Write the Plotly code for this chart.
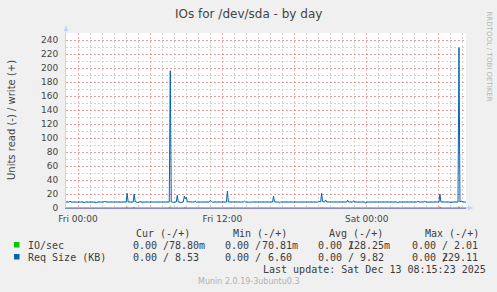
import plotly.graph_objects as go

# ---------------- data ----------------
req_times = [
    "2025-12-11 23:00", "2025-12-11 23:15", "2025-12-11 23:20", "2025-12-11 23:25",
    "2025-12-11 23:55", "2025-12-12 00:25", "2025-12-12 00:30", "2025-12-12 00:35",
    "2025-12-12 01:25", "2025-12-12 01:30", "2025-12-12 01:35", "2025-12-12 02:10",
    "2025-12-12 02:15", "2025-12-12 02:20", "2025-12-12 04:00", "2025-12-12 04:05",
    "2025-12-12 04:10", "2025-12-12 04:35", "2025-12-12 04:40", "2025-12-12 04:45",
    "2025-12-12 04:55", "2025-12-12 05:00", "2025-12-12 05:05", "2025-12-12 05:15",
    "2025-12-12 05:20", "2025-12-12 05:25", "2025-12-12 07:35", "2025-12-12 07:40",
    "2025-12-12 07:45", "2025-12-12 07:55", "2025-12-12 08:10", "2025-12-12 08:15",
    "2025-12-12 08:20", "2025-12-12 08:30", "2025-12-12 08:45", "2025-12-12 08:50",
    "2025-12-12 08:55", "2025-12-12 09:00", "2025-12-12 09:05", "2025-12-12 09:40",
    "2025-12-12 09:45", "2025-12-12 09:50", "2025-12-12 10:55", "2025-12-12 11:00",
    "2025-12-12 11:05", "2025-12-12 11:10", "2025-12-12 12:20", "2025-12-12 12:25",
    "2025-12-12 12:30", "2025-12-12 13:45", "2025-12-12 13:50", "2025-12-12 13:55",
    "2025-12-12 14:15", "2025-12-12 14:20", "2025-12-12 14:25", "2025-12-12 16:10",
    "2025-12-12 16:15", "2025-12-12 16:20", "2025-12-12 16:40", "2025-12-12 16:45",
    "2025-12-12 16:50", "2025-12-12 17:25", "2025-12-12 17:30", "2025-12-12 17:35",
    "2025-12-12 19:55", "2025-12-12 20:00", "2025-12-12 20:05", "2025-12-12 20:10",
    "2025-12-12 20:15", "2025-12-12 20:20", "2025-12-12 20:30", "2025-12-12 20:35",
    "2025-12-12 20:40", "2025-12-12 22:20", "2025-12-12 22:25", "2025-12-12 22:30",
    "2025-12-12 22:50", "2025-12-12 22:55", "2025-12-12 23:00", "2025-12-12 23:50",
    "2025-12-12 23:55", "2025-12-13 00:00", "2025-12-13 02:30", "2025-12-13 02:35",
    "2025-12-13 02:40", "2025-12-13 04:10", "2025-12-13 04:15", "2025-12-13 04:20",
    "2025-12-13 04:45", "2025-12-13 04:50", "2025-12-13 04:55", "2025-12-13 06:00",
    "2025-12-13 06:05", "2025-12-13 06:10", "2025-12-13 06:55", "2025-12-13 07:00",
    "2025-12-13 07:05", "2025-12-13 07:35", "2025-12-13 07:40", "2025-12-13 07:45",
    "2025-12-13 07:55", "2025-12-13 08:00", "2025-12-13 08:15",
]
req_values = [
    8.6, 8.4, 9.6, 8.5,
    8.4, 8.6, 7.2, 8.5,
    8.4, 7.0, 8.5, 8.5,
    9.8, 8.5, 8.5, 21.0,
    8.6, 8.4, 20.0, 9.2,
    8.0, 7.4, 8.5, 9.4,
    7.0, 8.5, 8.5, 196.0,
    9.0, 8.0, 8.6, 18.0,
    8.8, 7.8, 8.6, 17.0,
    13.0, 15.5, 8.8, 8.5,
    9.6, 8.5, 8.5, 11.0,
    9.6, 8.5, 8.5, 24.0,
    8.6, 8.5, 9.7, 8.5,
    8.3, 7.6, 8.5, 8.5,
    17.0, 8.6, 8.4, 7.4,
    8.5, 8.5, 7.6, 8.5,
    8.5, 9.5, 8.6, 8.6,
    21.0, 9.0, 8.6, 11.5,
    8.6, 8.5, 11.0, 8.5,
    8.5, 10.5, 8.5, 8.5,
    6.6, 8.5, 8.5, 7.4,
    8.5, 8.5, 9.6, 8.5,
    8.6, 9.5, 8.5, 8.5,
    20.0, 8.6, 8.5, 7.6,
    8.5, 8.5, 229.11, 9.0,
    9.8, 8.5, 8.53,
]

io_times = [
    "2025-12-11 23:00", "2025-12-12 04:00", "2025-12-12 04:05", "2025-12-12 04:10",
    "2025-12-12 04:35", "2025-12-12 04:40", "2025-12-12 04:45", "2025-12-12 07:35",
    "2025-12-12 07:40", "2025-12-12 07:45", "2025-12-12 08:10", "2025-12-12 08:15",
    "2025-12-12 08:20", "2025-12-12 08:50", "2025-12-12 08:55", "2025-12-12 09:00",
    "2025-12-12 20:10", "2025-12-12 20:15", "2025-12-12 20:20", "2025-12-13 06:00",
    "2025-12-13 06:05", "2025-12-13 06:10", "2025-12-13 07:35", "2025-12-13 07:40",
    "2025-12-13 07:45", "2025-12-13 08:15",
]
io_values = [
    0.07, 0.07, 1.6, 0.07,
    0.07, 1.5, 0.07, 0.07,
    2.01, 0.07, 0.07, 1.4,
    0.07, 0.07, 1.5, 0.07,
    0.07, 1.5, 0.07, 0.07,
    1.6, 0.07, 0.07, 1.9,
    0.07, 0.08,
]

series_names = ["IO/sec", "Req Size (KB)"]
series_colors = ["#00CC00", "#0066B3"]
col_headers = ["Cur (-/+)", "Min (-/+)", "Avg (-/+)", "Max (-/+)"]
io_stats = ["78.80m", "70.81m", "128.25m", "2.01"]
req_stats = ["8.53", "6.60", "9.82", "229.11"]
y_ticks = list(range(0, 241, 20))

title_text = "IOs for /dev/sda - by day"
y_title = "Units read (-) / write (+)"
last_update = "Last update: Sat Dec 13 08:15:23 2025"
footer = "Munin 2.0.19-3ubuntu0.3"
side_text = "RRDTOOL / TOBI OETIKER"

# ---------------- layout helpers (pixel -> paper) ----------------
W, H = 497, 292
L, R, T, B = 66, 466, 33, 208


def px(x):
    return (x - L) / (R - L)


def py(y):
    return (B - y) / (B - T)


fig = go.Figure()
fig.add_trace(go.Scatter(x=io_times, y=io_values, mode="lines",
                         line=dict(color=series_colors[0], width=1),
                         name=series_names[0], hoverinfo="skip"))
fig.add_trace(go.Scatter(x=req_times, y=req_values, mode="lines",
                         line=dict(color=series_colors[1], width=1),
                         name=series_names[1], hoverinfo="skip"))

red_grid = "rgba(245,110,110,0.55)"
gray_grid = "#d4d4d4"
grid_dash = "2px,2px"
tick_font = dict(family="DejaVu Sans", size=9, color="#444")

fig.update_layout(
    width=W, height=H,
    margin=dict(l=L, r=W - R, t=T, b=H - B, pad=0),
    paper_bgcolor="#f0f0f0", plot_bgcolor="#ffffff",
    showlegend=False,
    xaxis=dict(
        type="date",
        range=["2025-12-11 23:00", "2025-12-13 08:15"],
        tick0="2025-12-12 00:00", dtick=6 * 3600000, ticklabelstep=2,
        tickformat="%a %H:%M", tickfont=tick_font,
        ticks="", ticklabelstandoff=2,
        showgrid=True, gridcolor=red_grid, griddash=grid_dash, gridwidth=1,
        minor=dict(dtick=3600000, showgrid=True, gridcolor=gray_grid,
                   griddash=grid_dash, gridwidth=1),
        showline=True, linecolor="#8c8cb4", linewidth=1,
        zeroline=False, fixedrange=True,
    ),
    yaxis=dict(
        range=[0, 250], tickvals=y_ticks, tickfont=tick_font,
        ticks="", ticklabelstandoff=5,
        showgrid=True, gridcolor=red_grid, griddash=grid_dash, gridwidth=1,
        minor=dict(dtick=10, tick0=0, showgrid=True, gridcolor=gray_grid,
                   griddash=grid_dash, gridwidth=1),
        showline=True, linecolor="#c8d0f5", linewidth=1,
        zeroline=False, fixedrange=True,
    ),
)

ann = []
ann.append(dict(text=title_text, x=px(248.5), y=py(14), xref="paper", yref="paper",
                showarrow=False, xanchor="center", yanchor="middle",
                font=dict(family="DejaVu Sans", size=12, color="#444")))
ann.append(dict(text=y_title, x=px(11), y=py(120), xref="paper", yref="paper",
                showarrow=False, textangle=-90, xanchor="center", yanchor="middle",
                font=dict(family="DejaVu Sans", size=10, color="#444")))
ann.append(dict(text=side_text, x=px(488.5), y=py(57), xref="paper", yref="paper",
                showarrow=False, textangle=90, xanchor="center", yanchor="middle",
                font=dict(family="DejaVu Sans", size=7, color="#b4b4b4")))
ann.append(dict(text=footer, x=px(249), y=py(281), xref="paper", yref="paper",
                showarrow=False, xanchor="center", yanchor="middle",
                font=dict(family="DejaVu Sans", size=8, color="#b0b0b0")))

mono = dict(family="DejaVu Sans Mono", size=10, color="#3c3c3c")
cw = 6.02


def txt(s, x, y):
    ann.append(dict(text=s, x=px(x), y=py(y), xref="paper", yref="paper",
                    showarrow=False, xanchor="left", yanchor="middle",
                    borderpad=0, font=mono))


header_x = [135, 231.7, 328.3, 424]
cell_x = [131.7, 224.4, 317.3, 410.7]
for hx, h in zip(header_x, col_headers):
    txt(h, hx, 233)

rows_y = [245, 257]
for ry, name, stats in zip(rows_y, series_names, [io_stats, req_stats]):
    txt(name, 26.7, ry)
    for cx, v in zip(cell_x, stats):
        txt("0.00 /", cx, ry)
        num = v.rstrip("m")
        txt(v, cx + cw * (11 - len(num)), ry)

txt(last_update, 261.7, 269)
fig.update_layout(annotations=ann)

shapes = []
for ry, col in zip(rows_y, series_colors):
    shapes.append(dict(type="rect", xref="paper", yref="paper",
                       x0=px(14), x1=px(19.5), y0=py(ry + 2.5), y1=py(ry - 3),
                       fillcolor=col, line=dict(width=0)))
# axis extensions and arrows
axis_blue = "#c8d0f5"
shapes.append(dict(type="line", xref="paper", yref="paper",
                   x0=0, x1=0, y0=1, y1=py(30), line=dict(color=axis_blue, width=1)))
shapes.append(dict(type="path", xref="paper", yref="paper",
                   path=f"M {px(63.5)} {py(31)} L {px(68.5)} {py(31)} L {px(66)} {py(25.5)} Z",
                   fillcolor=axis_blue, line=dict(width=0)))
shapes.append(dict(type="line", xref="paper", yref="paper",
                   x0=1, x1=px(469), y0=0, y1=0, line=dict(color=axis_blue, width=1)))
shapes.append(dict(type="path", xref="paper", yref="paper",
                   path=f"M {px(468)} {py(205.5)} L {px(468)} {py(210.5)} L {px(473.5)} {py(208)} Z",
                   fillcolor=axis_blue, line=dict(width=0)))
fig.update_layout(shapes=shapes)

fig.write_html("out.html")
